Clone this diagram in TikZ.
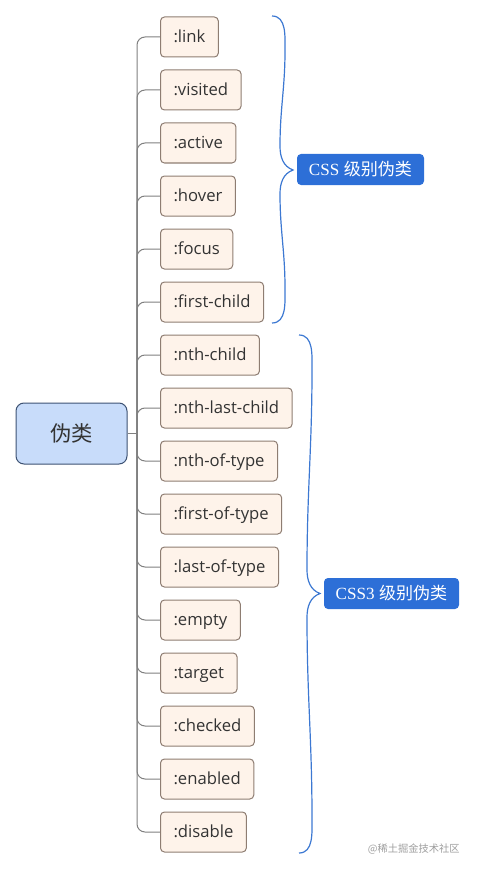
\documentclass[tikz,border=0pt]{standalone}
\usepackage{fontspec}
\setmainfont{Open Sans}
\newfontfamily\cjk{Noto Sans CJK SC}
\newfontfamily\serifc{Liberation Serif}
\definecolor{leaffill}{HTML}{FEF3EA}
\definecolor{leafborder}{HTML}{8E7D72}
\definecolor{rootfill}{HTML}{C8DCFA}
\definecolor{rootborder}{HTML}{3D5273}
\definecolor{labfill}{HTML}{2D6FD7}
\definecolor{bracecol}{HTML}{3C78D2}
\definecolor{conncol}{HTML}{808080}
\definecolor{textc}{HTML}{333333}
\newcommand\mybrace[6]{% xl xm xt ytop ytip ybot
  \draw[bracestyle] (#1,#4) to[out=0,in=90] (#2,#4+35) to[out=-90,in=90] (#2-5,#5-24)
    to[out=-90,in=160] (#3,#5) to[out=200,in=90] (#2-5,#5+24)
    to[out=-90,in=90] (#2,#6-35) to[out=-90,in=0] (#1,#6);}
\begin{document}
\begin{tikzpicture}[x=0.75pt,y=-0.75pt,
  leaf/.style={draw=leafborder, fill=leaffill, rounded corners=3pt, line width=0.75pt,
    anchor=west, inner xsep=9.75pt, inner ysep=0pt, minimum height=30pt,
    text height=10.3pt, text depth=1.7pt, font=\fontsize{12.5}{14}\selectfont, text=textc},
  conn/.style={draw=conncol, line width=0.75pt, rounded corners=6pt},
  rootstyle/.style={draw=rootborder, fill=rootfill, rounded corners=6pt, line width=0.75pt,
    minimum width=83.25pt, minimum height=45.75pt, inner sep=0pt,
    font=\cjk\fontsize{16}{18}\selectfont, text=textc},
  labstyle/.style={fill=labfill, rounded corners=3pt, minimum height=23.25pt, inner sep=0pt,
    font=\fontsize{12.8}{14}\selectfont, text=white},
  bracestyle/.style={draw=bracecol, line width=0.9pt},
]
\path[use as bounding box] (0,0) rectangle (476,870);

\node[rootstyle] (root) at (71.5,433.5) {伪类};
\coordinate (trunk) at (137,433.5);
\draw[conn] (root.east) -- (trunk);

\node[leaf] (l1) at (160,37) {:link};
\node[leaf] (l2) at (160,90) {:visited};
\node[leaf] (l3) at (160,143) {:active};
\node[leaf] (l4) at (160,196) {:hover};
\node[leaf] (l5) at (160,249) {:focus};
\node[leaf] (l6) at (160,302) {:first-child};
\node[leaf] (l7) at (160,355) {:nth-child};
\node[leaf] (l8) at (160,408) {:nth-last-child};
\node[leaf] (l9) at (160,461) {:nth-of-type};
\node[leaf] (l10) at (160,514) {:first-of-type};
\node[leaf] (l11) at (160,567) {:last-of-type};
\node[leaf] (l12) at (160,620) {:empty};
\node[leaf] (l13) at (160,673) {:target};
\node[leaf] (l14) at (160,726) {:checked};
\node[leaf] (l15) at (160,779) {:enabled};
\node[leaf] (l16) at (160,832) {:disable};

\foreach \i in {1,...,16} {
  \draw[conn] (trunk) |- (l\i.west);
}

\mybrace{272}{285}{293}{16}{170}{323}
\mybrace{299}{312}{320}{335}{593.5}{853}

\node[labstyle, minimum width=95.25pt] (lab1) at (360.5,169.5) {{\serifc CSS} {\cjk 级别伪类}};
\node[labstyle, minimum width=101.25pt] (lab2) at (391.5,593.5) {{\serifc CSS3} {\cjk 级别伪类}};

\node[anchor=east, inner sep=0pt, text=black!38, font=\cjk\fontsize{7.7}{10}\selectfont] (wm) at (460,849) {@稀土掘金技术社区};
\end{tikzpicture}
\end{document}
